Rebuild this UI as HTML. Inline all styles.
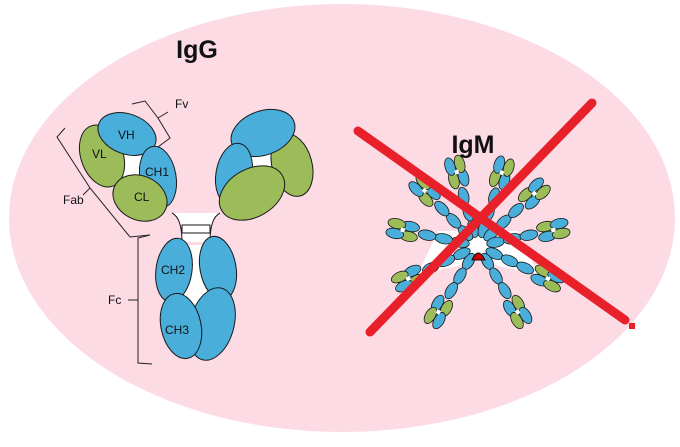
<!DOCTYPE html>
<html><head><meta charset="utf-8"><style>
html,body{margin:0;padding:0;background:#fff}
svg{display:block}
text{font-family:"Liberation Sans",sans-serif}
</style></head><body>
<svg width="680" height="447" viewBox="0 0 680 447" xmlns="http://www.w3.org/2000/svg">
<defs>
<g id="arm" stroke="#1a1a1a" stroke-width="0.8">
  <ellipse cx="0" cy="-18" rx="5" ry="9" fill="#4aaedb"/>
  <ellipse cx="0" cy="-35" rx="5" ry="9" fill="#4aaedb"/>
  <ellipse cx="0" cy="-52" rx="5" ry="9" fill="#4aaedb"/>
  <ellipse cx="-5" cy="-70" rx="5" ry="9" fill="#9cbb59"/>
  <ellipse cx="5" cy="-70" rx="5" ry="9" fill="#4aaedb"/>
  <ellipse cx="-5" cy="-84" rx="5" ry="9" fill="#4aaedb"/>
  <ellipse cx="5" cy="-84" rx="5" ry="9" fill="#9cbb59"/>
  <rect x="-2" y="-79" width="4" height="4" fill="#fff" stroke="none"/>
</g>
</defs>
<rect width="680" height="447" fill="#fff"/>
<ellipse cx="342" cy="218" rx="333" ry="214" fill="#fddbe4"/>
<text x="197" y="58" font-size="25" font-weight="bold" text-anchor="middle" fill="#111">IgG</text>
<text x="473" y="153" font-size="25" font-weight="bold" text-anchor="middle" fill="#111">IgM</text>

<g stroke="#1a1a1a" stroke-width="1">
  <path d="M172 213 Q182 218 182 242 L210 242 Q210 218 220 213 Z" fill="#fff" stroke="none"/>
  <path d="M172 213 Q182 218 182 242 M220 213 Q210 218 210 242" fill="none"/>
  <rect x="182" y="225" width="28" height="8" fill="#fff"/>
  <polygon points="185,245 210,245 218,295 205,310 190,310 178,295" fill="#fff" stroke="none"/>
  <polygon points="118,150 152,150 150,185 120,185" fill="#fff" stroke="none"/>
  <polygon points="240,150 272,150 270,185 240,185" fill="#fff" stroke="none"/>
  <ellipse cx="102" cy="156" rx="21" ry="32" transform="rotate(-20 102 156)" fill="#9cbb59"/>
  <ellipse cx="127" cy="134" rx="30" ry="20" transform="rotate(20 127 134)" fill="#4aaedb"/>
  <ellipse cx="158" cy="177" rx="18" ry="31" transform="rotate(-10 158 177)" fill="#4aaedb"/>
  <ellipse cx="140" cy="198" rx="28" ry="22" transform="rotate(25 140 198)" fill="#9cbb59"/>
  <ellipse cx="292" cy="165" rx="20" ry="32" transform="rotate(-15 292 165)" fill="#9cbb59"/>
  <ellipse cx="263" cy="133" rx="33" ry="22" transform="rotate(-20 263 133)" fill="#4aaedb"/>
  <ellipse cx="234" cy="174" rx="18" ry="31" transform="rotate(10 234 174)" fill="#4aaedb"/>
  <ellipse cx="252" cy="193" rx="35" ry="24" transform="rotate(-30 252 193)" fill="#9cbb59"/>
  <ellipse cx="174" cy="270" rx="18" ry="32" transform="rotate(8 174 270)" fill="#4aaedb"/>
  <ellipse cx="218" cy="268" rx="18" ry="32" transform="rotate(-10 218 268)" fill="#4aaedb"/>
  <ellipse cx="212" cy="324" rx="22" ry="37" transform="rotate(15 212 324)" fill="#4aaedb"/>
  <ellipse cx="181" cy="326" rx="20" ry="33" transform="rotate(-12 181 326)" fill="#4aaedb"/>
</g>
<g font-size="12" fill="#111">
  <text x="118" y="139">VH</text>
  <text x="92" y="158">VL</text>
  <text x="145" y="176">CH1</text>
  <text x="134" y="201">CL</text>
  <text x="161" y="274">CH2</text>
  <text x="165" y="334">CH3</text>
  <text x="175" y="108">Fv</text>
  <text x="63" y="204">Fab</text>
  <text x="108" y="304">Fc</text>
</g>
<g stroke="#222" stroke-width="1" fill="none">
  <polyline points="132,104 145,101 158,118 170,138 158,147"/>
  <polyline points="158,118 168,112"/>
  <polyline points="65,128 57,137 90,188 130,237 150,235"/>
  <polyline points="90,188 83,195"/>
  <polyline points="150,235 138,238 138,363 152,364"/>
  <polyline points="138,300 128,300"/>
</g>

<g transform="translate(478,246)">
  <path d="M-40 -15 L40 -15 L60 28 L20 20 L0 10 L-20 20 L-60 28 Z" fill="#fff"/>
  <use href="#arm" transform="rotate(-16)"/>
  <use href="#arm" transform="rotate(18)"/>
  <use href="#arm" transform="rotate(47)"/>
  <use href="#arm" transform="rotate(78)"/>
  <use href="#arm" transform="rotate(115)"/>
  <use href="#arm" transform="rotate(149)"/>
  <use href="#arm" transform="rotate(-149)"/>
  <use href="#arm" transform="rotate(-115)"/>
  <use href="#arm" transform="rotate(-78)"/>
  <use href="#arm" transform="rotate(-44)"/>
  <path d="M-6 14 Q0 0 7 14 Z" fill="#c00" stroke="#111" stroke-width="1"/>
</g>
<g stroke="#e8202a" stroke-width="9" stroke-linecap="round">
  <line x1="358" y1="131" x2="625" y2="320"/>
  <line x1="592" y1="103" x2="370" y2="332"/>
</g>
<rect x="629" y="323" width="6" height="6" fill="#e8202a"/>
</svg>
</body></html>
